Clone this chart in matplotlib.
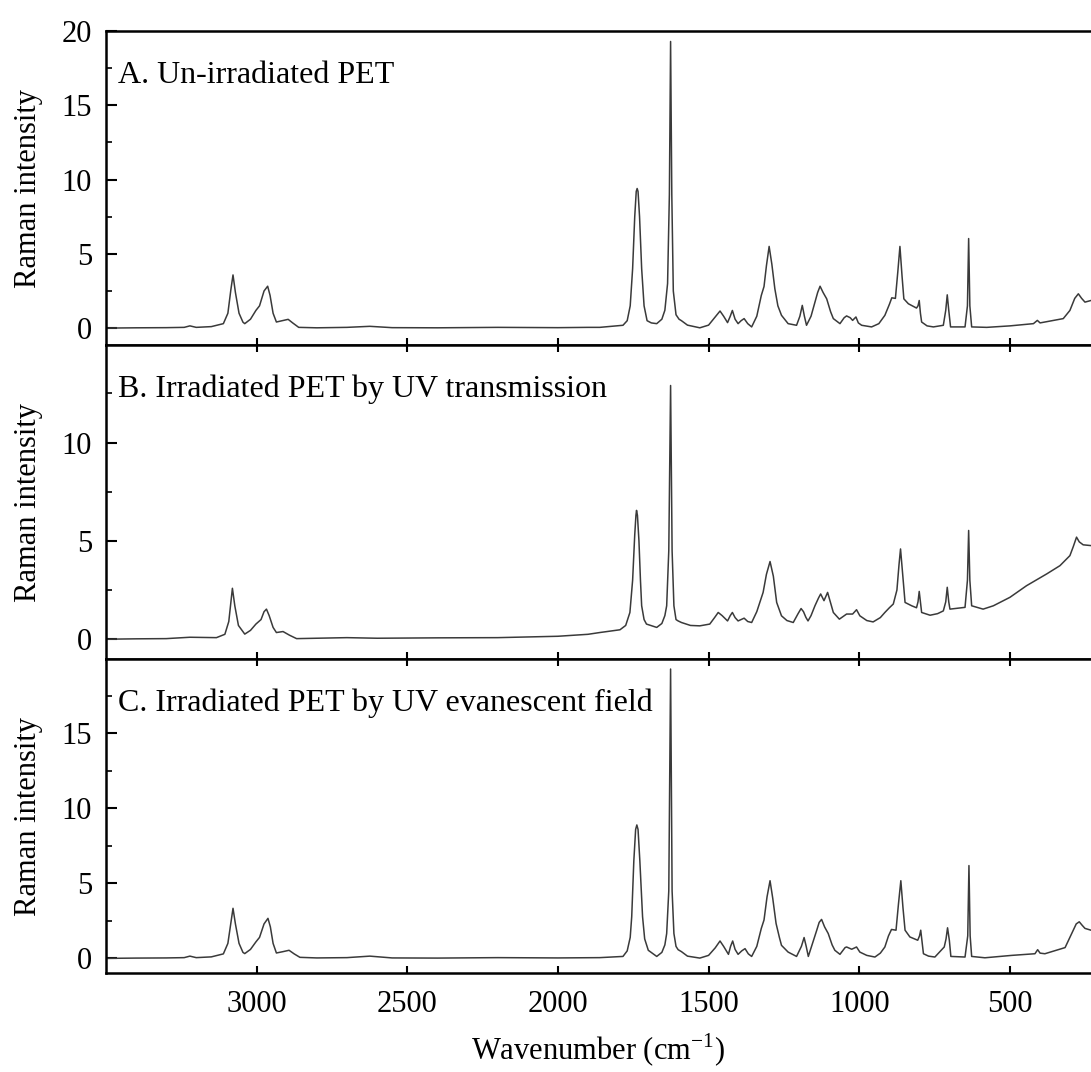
import numpy as np
import matplotlib
matplotlib.use('Agg')
import matplotlib.pyplot as plt
from matplotlib.ticker import MultipleLocator

plt.rcParams['font.family'] = 'Liberation Serif'
plt.rcParams['mathtext.fontset'] = 'custom'
plt.rcParams['mathtext.rm'] = 'Liberation Serif'

# spectra: (wavenumber cm-1, Raman intensity)
pts_a = [(3500, 0.0), (3400, 0.02), (3300, 0.03), (3240, 0.05), (3221, 0.15), (3200, 0.05), (3150, 0.1),
         (3110, 0.3), (3095, 1.0), (3085, 2.6), (3078, 3.58), (3070, 2.4), (3058, 1.0), (3045, 0.4),
         (3039, 0.3), (3020, 0.6), (3002, 1.19), (2990, 1.5), (2975, 2.5), (2963, 2.82), (2955, 2.2),
         (2945, 1.0), (2934, 0.41), (2915, 0.5), (2895, 0.59), (2880, 0.35), (2860, 0.05), (2800, 0.02),
         (2700, 0.05), (2624, 0.12), (2550, 0.03), (2400, 0.02), (2200, 0.05), (2000, 0.03), (1900, 0.05),
         (1861, 0.05), (1784, 0.19), (1770, 0.5), (1760, 1.5), (1752, 4.0), (1745, 7.5), (1740, 9.2),
         (1737, 9.4), (1734, 9.2), (1729, 7.5), (1722, 4.0), (1714, 1.5), (1704, 0.5), (1690, 0.35),
         (1672, 0.3), (1655, 0.6), (1645, 1.2), (1636, 3.0), (1630, 9.0), (1626, 19.3), (1622, 9.0),
         (1617, 2.5), (1608, 0.9), (1598, 0.6), (1590, 0.5), (1570, 0.2), (1529, 0.02), (1500, 0.2),
         (1480, 0.7), (1462, 1.15), (1450, 0.8), (1437, 0.37), (1428, 0.8), (1421, 1.19), (1412, 0.6),
         (1402, 0.3), (1392, 0.5), (1382, 0.64), (1370, 0.3), (1357, 0.08), (1340, 0.8), (1325, 2.2),
         (1316, 2.8), (1308, 4.2), (1299, 5.5), (1290, 4.3), (1280, 2.64), (1270, 1.5), (1258, 0.86),
         (1236, 0.3), (1208, 0.19), (1197, 0.8), (1189, 1.53), (1182, 0.8), (1175, 0.19), (1160, 0.8),
         (1147, 1.75), (1138, 2.4), (1130, 2.82), (1120, 2.4), (1108, 1.97), (1095, 1.1), (1086, 0.64),
         (1064, 0.3), (1050, 0.7), (1042, 0.82), (1030, 0.7), (1022, 0.52), (1011, 0.75), (1003, 0.35),
         (992, 0.19), (959, 0.08), (935, 0.3), (915, 0.86), (900, 1.6), (892, 2.04), (880, 2.0),
         (872, 3.8), (865, 5.5), (858, 3.5), (852, 1.97), (837, 1.64), (810, 1.35), (805, 1.5),
         (801, 1.86), (797, 1.0), (793, 0.41), (775, 0.15), (754, 0.08), (721, 0.19), (713, 1.2),
         (708, 2.24), (703, 1.2), (697, 0.08), (649, 0.08), (641, 1.5), (637, 6.03), (633, 1.5),
         (627, 0.08), (577, 0.05), (500, 0.15), (422, 0.3), (409, 0.52), (400, 0.35), (360, 0.5),
         (323, 0.64), (301, 1.19), (285, 2.0), (273, 2.31), (262, 2.0), (251, 1.75), (231, 1.86)]

pts_b = [(3500, 0.0), (3400, 0.02), (3300, 0.03), (3221, 0.1), (3133, 0.08), (3105, 0.25), (3092, 0.9),
         (3085, 1.9), (3080, 2.59), (3072, 1.7), (3060, 0.7), (3039, 0.26), (3020, 0.45), (3002, 0.77),
         (2985, 1.0), (2975, 1.4), (2967, 1.53), (2958, 1.2), (2945, 0.6), (2934, 0.34), (2912, 0.39),
         (2890, 0.2), (2867, 0.03), (2800, 0.05), (2700, 0.08), (2600, 0.05), (2400, 0.07), (2200, 0.08),
         (2000, 0.15), (1900, 0.25), (1861, 0.34), (1794, 0.48), (1775, 0.7), (1761, 1.36), (1752, 3.0),
         (1745, 5.3), (1741, 6.3), (1739, 6.55), (1736, 6.3), (1731, 5.0), (1726, 3.0), (1722, 1.7),
         (1714, 1.0), (1706, 0.77), (1672, 0.6), (1655, 0.8), (1645, 1.2), (1639, 1.7), (1632, 4.5),
         (1626, 12.9), (1621, 4.5), (1615, 1.7), (1608, 1.0), (1601, 0.93), (1590, 0.85), (1560, 0.7),
         (1529, 0.68), (1496, 0.77), (1480, 1.1), (1468, 1.36), (1455, 1.2), (1437, 0.93), (1428, 1.2),
         (1421, 1.36), (1412, 1.1), (1402, 0.93), (1382, 1.07), (1370, 0.9), (1357, 0.85), (1340, 1.4),
         (1319, 2.38), (1308, 3.3), (1296, 3.95), (1285, 3.2), (1274, 1.87), (1258, 1.19), (1240, 0.95),
         (1219, 0.85), (1203, 1.3), (1193, 1.56), (1185, 1.4), (1177, 1.11), (1170, 0.93), (1160, 1.2),
         (1147, 1.7), (1135, 2.1), (1128, 2.3), (1117, 1.96), (1105, 2.38), (1096, 1.9), (1086, 1.36),
         (1066, 1.02), (1042, 1.28), (1022, 1.28), (1009, 1.5), (998, 1.19), (975, 0.95), (954, 0.88),
         (930, 1.1), (915, 1.36), (900, 1.6), (887, 1.79), (875, 2.5), (868, 3.8), (863, 4.59),
         (857, 3.5), (848, 1.87), (826, 1.7), (810, 1.6), (805, 1.9), (801, 2.43), (797, 1.9),
         (793, 1.36), (765, 1.22), (740, 1.3), (721, 1.44), (713, 1.9), (708, 2.64), (703, 1.9),
         (699, 1.53), (649, 1.62), (641, 3.0), (637, 5.53), (633, 3.0), (627, 1.7), (589, 1.53),
         (555, 1.7), (500, 2.13), (445, 2.72), (378, 3.32), (334, 3.74), (301, 4.25), (290, 4.7),
         (279, 5.19), (270, 4.95), (257, 4.8), (231, 4.76)]

pts_c = [(3500, 0.0), (3400, 0.02), (3300, 0.03), (3240, 0.05), (3221, 0.15), (3200, 0.05), (3150, 0.1),
         (3110, 0.3), (3095, 1.0), (3085, 2.4), (3078, 3.34), (3070, 2.3), (3058, 1.0), (3045, 0.4),
         (3039, 0.32), (3020, 0.6), (3002, 1.1), (2990, 1.4), (2975, 2.3), (2962, 2.67), (2954, 2.1),
         (2945, 1.0), (2934, 0.36), (2912, 0.45), (2892, 0.54), (2875, 0.3), (2856, 0.07), (2800, 0.03),
         (2700, 0.05), (2624, 0.15), (2550, 0.03), (2400, 0.02), (2200, 0.05), (2000, 0.03), (1900, 0.04),
         (1861, 0.05), (1784, 0.13), (1770, 0.5), (1760, 1.4), (1755, 2.78), (1748, 6.5), (1742, 8.6),
         (1738, 8.9), (1734, 8.6), (1728, 6.5), (1719, 2.78), (1712, 1.3), (1700, 0.54), (1672, 0.13),
         (1655, 0.4), (1645, 0.9), (1639, 1.66), (1632, 4.5), (1626, 19.3), (1621, 4.5), (1615, 1.66),
         (1608, 0.8), (1601, 0.58), (1590, 0.45), (1570, 0.15), (1529, 0.02), (1500, 0.2), (1478, 0.7),
         (1462, 1.16), (1450, 0.8), (1434, 0.27), (1427, 0.8), (1420, 1.16), (1412, 0.6), (1402, 0.27),
         (1390, 0.5), (1379, 0.65), (1368, 0.3), (1357, 0.13), (1340, 0.8), (1325, 2.0), (1316, 2.56),
         (1306, 4.1), (1296, 5.18), (1287, 4.0), (1276, 2.33), (1265, 1.4), (1258, 0.87), (1236, 0.42),
         (1208, 0.13), (1192, 0.8), (1183, 1.39), (1176, 0.8), (1169, 0.13), (1155, 1.0), (1141, 1.88),
         (1133, 2.4), (1125, 2.6), (1115, 2.1), (1103, 1.66), (1090, 0.9), (1081, 0.54), (1064, 0.27),
         (1047, 0.72), (1042, 0.76), (1025, 0.61), (1009, 0.76), (998, 0.42), (975, 0.2), (948, 0.09),
         (930, 0.35), (915, 0.76), (903, 1.5), (893, 1.93), (878, 1.88), (870, 3.6), (862, 5.18),
         (855, 3.4), (848, 1.88), (832, 1.43), (806, 1.21), (800, 1.5), (796, 1.88), (791, 1.0),
         (787, 0.31), (770, 0.15), (749, 0.09), (718, 0.76), (712, 1.3), (707, 2.04), (701, 1.2),
         (696, 0.13), (649, 0.09), (640, 1.5), (636, 6.19), (632, 1.5), (627, 0.13), (583, 0.04),
         (494, 0.2), (417, 0.31), (408, 0.58), (400, 0.35), (384, 0.31), (317, 0.72), (295, 1.66),
         (280, 2.3), (270, 2.44), (260, 2.2), (251, 2.0), (231, 1.88)]

labels = ['A. Un-irradiated PET', 'B. Irradiated PET by UV transmission',
          'C. Irradiated PET by UV evanescent field']
ylims = [(-1.15, 20), (-1.02, 14.95), (-1.0, 19.95)]
xticks = [3000, 2500, 2000, 1500, 1000, 500]

fig = plt.figure(figsize=(10.91, 10.72), dpi=100)
gs = fig.add_gridspec(3, 1, left=0.097, right=1.0, top=0.971, bottom=0.092, hspace=0)

for i, (pts, lab, yl) in enumerate(zip([pts_a, pts_b, pts_c], labels, ylims)):
    ax = fig.add_subplot(gs[i])
    wn, val = np.array(pts).T
    ax.plot(wn, val, color='#3a3a3a', lw=1.1)
    ax.set_xlim(3500, 231)
    ax.set_ylim(*yl)
    ax.set_xticks(xticks)
    ax.yaxis.set_major_locator(MultipleLocator(5))
    ax.yaxis.set_minor_locator(MultipleLocator(2.5))
    ax.tick_params(axis='y', which='major', direction='in', length=8, width=1.5, labelsize=22, pad=10)
    ax.tick_params(axis='y', which='minor', direction='in', length=4, width=1.2)
    ax.tick_params(axis='x', direction='in', length=5, width=1.5, labelsize=22, pad=12,
                   top=(i > 0), bottom=True)
    if i < 2:
        ax.tick_params(axis='x', labelbottom=False)
    for s in ['left', 'top', 'bottom']:
        ax.spines[s].set_linewidth(1.8)
    ax.spines['right'].set_visible(False)
    ax.set_ylabel('Raman intensity', fontsize=22, labelpad=13)
    ax.text(0.012, 0.86, lab, transform=ax.transAxes, fontsize=23, va='center', ha='left')
    if i == 2:
        ax.set_xlabel('Wavenumber (cm$^{-1}$)', fontsize=22, labelpad=9)

fig.align_ylabels()
fig.savefig('out.png', dpi=100, facecolor='white')
